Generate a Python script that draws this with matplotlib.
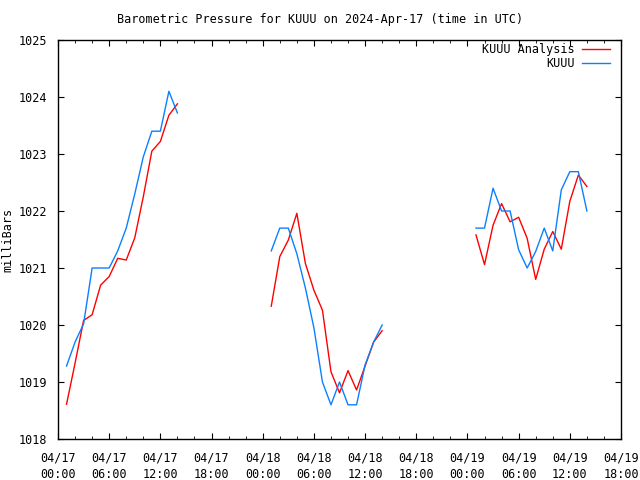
import numpy as np
import matplotlib
matplotlib.use("Agg")
import matplotlib.pyplot as plt
import matplotlib.dates as mdates
from datetime import datetime, timedelta

START = datetime(2024, 4, 17, 0, 0)

# hours after 04/17 00:00 UTC
hours_seg1 = [1, 2, 3, 4, 5, 6, 7, 8, 9, 10, 11, 12, 13, 14]
hours_seg2 = [25, 26, 27, 28, 29, 30, 31, 32, 33, 34, 35, 36, 37, 38]
hours_seg3 = [49, 50, 51, 52, 53, 54, 55, 56, 57, 58, 59, 60, 61, 62]

analysis_seg1 = [1018.61, 1019.33, 1020.08, 1020.18, 1020.70, 1020.85, 1021.17, 1021.14,
                 1021.53, 1022.25, 1023.05, 1023.22, 1023.68, 1023.88]
analysis_seg2 = [1020.33, 1021.20, 1021.49, 1021.96, 1021.08, 1020.61, 1020.26, 1019.18,
                 1018.81, 1019.20, 1018.86, 1019.28, 1019.70, 1019.90]
analysis_seg3 = [1021.58, 1021.06, 1021.75, 1022.13, 1021.81, 1021.89, 1021.52, 1020.80,
                 1021.33, 1021.64, 1021.33, 1022.17, 1022.63, 1022.43]

obs_seg1 = [1019.28, 1019.70, 1020.02, 1021.00, 1021.00, 1021.00, 1021.30, 1021.70,
            1022.30, 1022.95, 1023.40, 1023.40, 1024.10, 1023.72]
obs_seg2 = [1021.30, 1021.70, 1021.70, 1021.25, 1020.65, 1019.95, 1019.00, 1018.60,
            1019.00, 1018.60, 1018.60, 1019.30, 1019.70, 1020.00]
obs_seg3 = [1021.70, 1021.70, 1022.40, 1022.00, 1022.00, 1021.32, 1021.00, 1021.29,
            1021.70, 1021.30, 1022.37, 1022.69, 1022.69, 1022.00]

labels = ["KUUU Analysis", "KUUU"]
RED = "#ff0000"
BLUE = "#0a80ff"
FONT = "DejaVu Sans Mono"


def to_times(hours):
    return [START + timedelta(hours=h) for h in hours]


fig = plt.figure(figsize=(6.4, 4.8), dpi=100)
ax = fig.add_axes([58 / 640, 1 - 439 / 480, 563 / 640, 399 / 480])

segments = [(hours_seg1, analysis_seg1, obs_seg1),
            (hours_seg2, analysis_seg2, obs_seg2),
            (hours_seg3, analysis_seg3, obs_seg3)]
for hrs, ana, obs in segments:
    t = to_times(hrs)
    ax.plot(t, ana, color=RED, lw=1.0)
    ax.plot(t, obs, color=BLUE, lw=1.0)

ax.set_xlim(START, START + timedelta(hours=66))
ax.set_ylim(1018, 1025)
ax.set_yticks(range(1018, 1026))

ax.xaxis.set_major_locator(mdates.HourLocator(byhour=range(0, 24, 6)))
ax.xaxis.set_minor_locator(mdates.HourLocator(byhour=range(0, 24, 2)))
ax.xaxis.set_major_formatter(mdates.DateFormatter("%m/%d\n%H:%M"))

ax.tick_params(which="both", direction="in", top=True, right=True, labelsize=8.5)
ax.tick_params(axis="x", pad=9)
ax.tick_params(axis="y", pad=8)
ax.tick_params(which="major", length=4.5)
ax.tick_params(which="minor", length=2.3)
for lbl in ax.get_xticklabels() + ax.get_yticklabels():
    lbl.set_fontfamily(FONT)
for lbl in ax.get_xticklabels():
    lbl.set_linespacing(1.3)
for s in ax.spines.values():
    s.set_linewidth(1.0)

ax.set_ylabel("milliBars", fontsize=8.5, fontfamily=FONT, labelpad=3)
fig.text(0.5, 1 - 19 / 480, "Barometric Pressure for KUUU on 2024-Apr-17 (time in UTC)",
         ha="center", va="center", fontsize=8.5, fontfamily=FONT)

# gnuplot style key: right-aligned labels, sample line on the right
for i, (name, col) in enumerate(zip(labels, [RED, BLUE])):
    ky = 1 - (9.5 + 14 * i) / 399
    ax.text(1 - 46 / 563, ky, name, transform=ax.transAxes, ha="right", va="center",
            fontsize=8.5, fontfamily=FONT)
    ax.plot([1 - 39 / 563, 1 - 11 / 563], [ky, ky], transform=ax.transAxes,
            color=col, lw=1.0)

fig.savefig("out.png", dpi=100)
